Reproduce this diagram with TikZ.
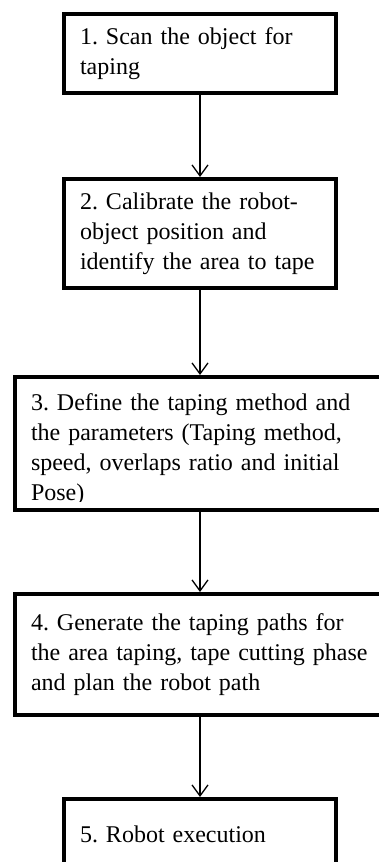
\documentclass[tikz,border=0pt]{standalone}
\usepackage{fontspec}
\setmainfont{Liberation Serif}
\usepackage{tikz}
\usetikzlibrary{positioning, arrows.meta}
\frenchspacing
\tikzstyle{stepbox} = [rectangle, draw, line width=4pt, inner xsep=16pt, inner ysep=0pt, align=left, font=\fontsize{24}{30}\selectfont]
\tikzstyle{arrow} = [line width=1.3pt, -{Straight Barb[length=11pt,width=16pt]}]

\begin{document}
\begin{tikzpicture}[x=1pt, y=1pt]
  \useasboundingbox (0,0) rectangle (379,-862);

  % Steps of the taping process
  \node[stepbox, text width=240pt, minimum height=79pt] (scan) at (200,-53.5) {1. Scan the object for\\taping};
  \node[stepbox, text width=240pt, minimum height=109pt, below=82pt of scan] (calib) {2. Calibrate the robot-\\object position and\\identify the area to tape};
  \node[stepbox, text width=360pt, minimum height=133pt, below=85pt of calib, xshift=11pt] (define) {\rule{0pt}{30pt}3. Define the taping method and\\the parameters (Taping method,\\speed, overlaps ratio and initial\\Pose)};
  \node[stepbox, text width=360pt, minimum height=121pt, below=80pt of define] (gen) {4. Generate the taping paths for\\the area taping, tape cutting phase\\and plan the robot path};
  \node[stepbox, text width=240pt, minimum height=70pt, below=80pt of gen, xshift=-11pt] (exec) {5. Robot execution};

  % text of step 3 is cut off at the bottom
  \fill[white] ([shift={(4pt,4pt)}]define.south west) rectangle ([shift={(-4pt,10pt)}]define.south east);

  % Arrows between steps
  \draw[arrow] (scan) -- (calib);
  \draw[arrow] (calib) -- (calib |- define.north);
  \draw[arrow] (define.south -| calib) -- (calib |- gen.north);
  \draw[arrow] (gen.south -| exec) -- (exec);
\end{tikzpicture}
\end{document}
